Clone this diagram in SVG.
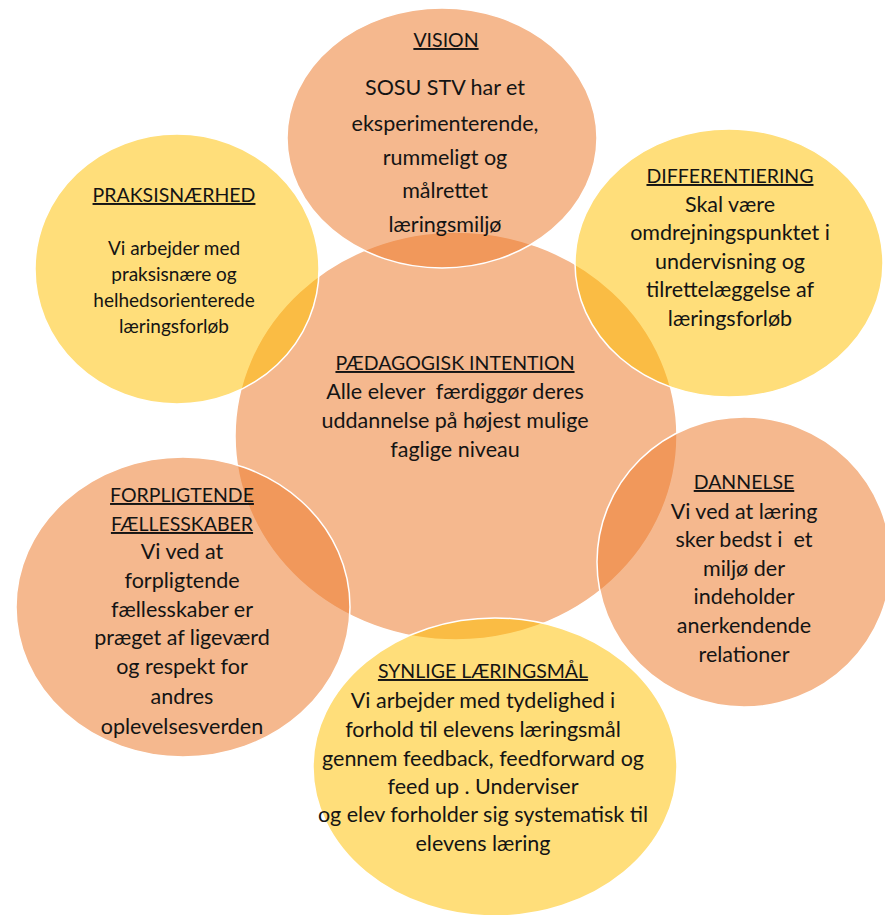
<svg xmlns="http://www.w3.org/2000/svg" width="885" height="915" viewBox="0 0 885 915">
<style>
.o{fill:#ED7D31;fill-opacity:0.55;stroke:#ffffff;stroke-width:1.5}
.y{fill:#FFC000;fill-opacity:0.52;stroke:#ffffff;stroke-width:1.5}
text{font-family:Lato,"Noto Sans",sans-serif;font-size:21.5px;fill:#141414;text-anchor:middle}
.h{text-decoration:underline;font-size:19.5px}
.s{font-size:19px}
</style>
<rect width="885" height="915" fill="#ffffff"/>
<g id="intention">
<ellipse class="o" cx="456" cy="436" rx="221" ry="204"/>
</g>
<g id="vision">
<ellipse class="o" cx="442" cy="138" rx="155" ry="130"/>
</g>
<g id="praksis">
<ellipse class="y" cx="177" cy="269" rx="142" ry="135"/>
</g>
<g id="differentiering">
<ellipse class="y" cx="729" cy="263" rx="154" ry="134"/>
</g>
<g id="dannelse">
<ellipse class="o" cx="744" cy="562" rx="147" ry="145"/>
</g>
<g id="forpligtende">
<ellipse class="o" cx="183" cy="607" rx="167" ry="150"/>
</g>
<g id="synlige">
<ellipse class="y" cx="495" cy="767" rx="182" ry="149"/>
</g>
<g id="labels">
<text x="446" y="47" class="h">VISION</text>
<text x="445" y="95">SOSU STV har et</text>
<text x="445" y="131">eksperimenterende,</text>
<text x="445" y="165">rummeligt og</text>
<text x="445" y="198">målrettet</text>
<text x="445" y="232">læringsmiljø</text>

<text x="174" y="202" class="h">PRAKSISNÆRHED</text>
<text x="174" y="255" class="s">Vi arbejder med</text>
<text x="174" y="281" class="s">praksisnære og</text>
<text x="174" y="307" class="s">helhedsorienterede</text>
<text x="174" y="333" class="s">læringsforløb</text>

<text x="730" y="183" class="h">DIFFERENTIERING</text>
<text x="730" y="212">Skal være</text>
<text x="730" y="240">omdrejningspunktet i</text>
<text x="730" y="269">undervisning og</text>
<text x="730" y="297">tilrettelæggelse af</text>
<text x="730" y="326">læringsforløb</text>

<text x="455" y="370" class="h">PÆDAGOGISK INTENTION</text>
<text x="455" y="399">Alle elever &#160;færdiggør deres</text>
<text x="455" y="428">uddannelse på højest mulige</text>
<text x="455" y="457">faglige niveau</text>

<text x="744" y="489" class="h">DANNELSE</text>
<text x="744" y="519">Vi ved at læring</text>
<text x="744" y="547">sker bedst i &#160;et</text>
<text x="744" y="576">miljø der</text>
<text x="744" y="604">indeholder</text>
<text x="744" y="633">anerkendende</text>
<text x="744" y="662">relationer</text>

<text x="182" y="502" class="h">FORPLIGTENDE</text>
<text x="182" y="531" class="h">FÆLLESSKABER</text>
<text x="182" y="559">Vi ved at</text>
<text x="182" y="588">forpligtende</text>
<text x="182" y="617">fællesskaber er</text>
<text x="182" y="645">præget af ligeværd</text>
<text x="182" y="674">og respekt for</text>
<text x="182" y="704">andres</text>
<text x="182" y="734">oplevelsesverden</text>

<text x="483" y="678" class="h">SYNLIGE LÆRINGSMÅL</text>
<text x="483" y="708">Vi arbejder med tydelighed i</text>
<text x="483" y="737">forhold til elevens læringsmål</text>
<text x="483" y="766">gennem feedback, feedforward og</text>
<text x="483" y="794">feed up . Underviser</text>
<text x="483" y="822">og elev forholder sig systematisk til</text>
<text x="483" y="851">elevens læring</text>
</g>
</svg>
